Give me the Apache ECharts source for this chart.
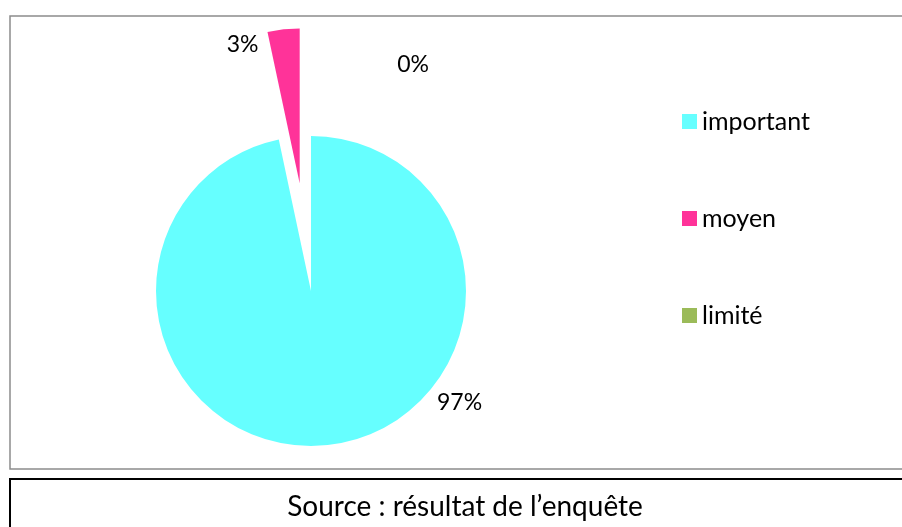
<!DOCTYPE html>
<html>
<head>
<meta charset="utf-8">
<script src="https://cdn.jsdelivr.net/npm/echarts@6/dist/echarts.min.js"></script>
<style>
html,body{margin:0;padding:0;background:#fff;}
#c{width:902px;height:527px;}
</style>
</head>
<body>
<div id="c"></div>
<script>
// Data
const categories = ['important', 'moyen', 'limité'];
const values = [29, 1, 0];
const colors = ['#66FFFF', '#FF3399', '#9BBB59'];
const sourceText = 'Source : résultat de l\u2019enquête';

const FONT = 'Lato';
const center = [311, 291];
const radius = 155;
const explodeIndex = 1;
const explodeDist = 108;
// label placement (polar offsets from each slice's apex: angle clockwise from top in degrees, distance px)
const labelPolar = [[127, 186], [-22.4, 150], [24.3, 248]];

// exploded slice centre, computed from the data
const total = values.reduce((a, b) => a + b, 0);
const before = values.slice(0, explodeIndex).reduce((a, b) => a + b, 0);
const midAngle = (before + values[explodeIndex] / 2) / total * 2 * Math.PI;
const explodedCenter = [center[0] + Math.sin(midAngle) * explodeDist, center[1] - Math.cos(midAngle) * explodeDist];

const TRANSPARENT = 'rgba(0,0,0,0)';

function makeLabelLayout(c) {
  return function (params) {
    const p = labelPolar[params.dataIndex];
    const a = p[0] * Math.PI / 180;
    return {
      x: c[0] + Math.sin(a) * p[1],
      y: c[1] - Math.cos(a) * p[1],
      align: 'center',
      verticalAlign: 'middle'
    };
  };
}

const labelStyle = {
  show: true,
  position: 'outside',
  formatter: '{d}%',
  fontFamily: FONT,
  fontSize: 23,
  color: '#000'
};

const mainData = categories.map((name, i) => ({
  name: name,
  value: values[i],
  itemStyle: {color: i === explodeIndex ? TRANSPARENT : colors[i]},
  label: {show: i !== explodeIndex}
}));
const explodedData = categories.map((name, i) => ({
  name: name,
  value: values[i],
  itemStyle: {color: i === explodeIndex ? colors[i] : TRANSPARENT},
  label: {show: i === explodeIndex}
}));

const commonPie = {
  type: 'pie',
  radius: radius,
  startAngle: 90,
  clockwise: true,
  percentPrecision: 0,
  selectedMode: false,
  avoidLabelOverlap: false,
  itemStyle: {borderWidth: 0},
  emphasis: {disabled: true},
  label: labelStyle,
  labelLine: {show: false},
  silent: true
};

const chart = echarts.init(document.getElementById('c'), null, {renderer: 'canvas'});
chart.setOption({
  animation: false,
  color: colors,
  graphic: [
    {type: 'rect', shape: {x: 10, y: 16, width: 900, height: 453}, style: {fill: 'none', stroke: '#8c8c8c', lineWidth: 1.5}, silent: true},
    {type: 'rect', shape: {x: 10, y: 479, width: 900, height: 60}, style: {fill: 'none', stroke: '#000', lineWidth: 2}, silent: true}
  ],
  title: {
    text: sourceText,
    left: 460,
    top: 488,
    textAlign: 'center',
    textStyle: {fontFamily: FONT, fontSize: 28, fontWeight: 'normal', color: '#000'}
  },
  legend: {
    orient: 'vertical',
    left: 682,
    top: 109,
    padding: 0,
    itemWidth: 15,
    itemHeight: 15,
    itemGap: 72,
    icon: 'rect',
    selectedMode: false,
    data: categories.map((name, i) => ({name: name, itemStyle: {color: colors[i]}})),
    textStyle: {fontFamily: FONT, fontSize: 25, color: '#000', lineHeight: 20}
  },
  series: [
    Object.assign({}, commonPie, {
      name: 'main',
      center: center,
      labelLayout: makeLabelLayout(center),
      data: mainData
    }),
    Object.assign({}, commonPie, {
      name: 'exploded',
      center: explodedCenter,
      labelLayout: makeLabelLayout(explodedCenter),
      data: explodedData
    })
  ]
});
</script>
</body>
</html>
